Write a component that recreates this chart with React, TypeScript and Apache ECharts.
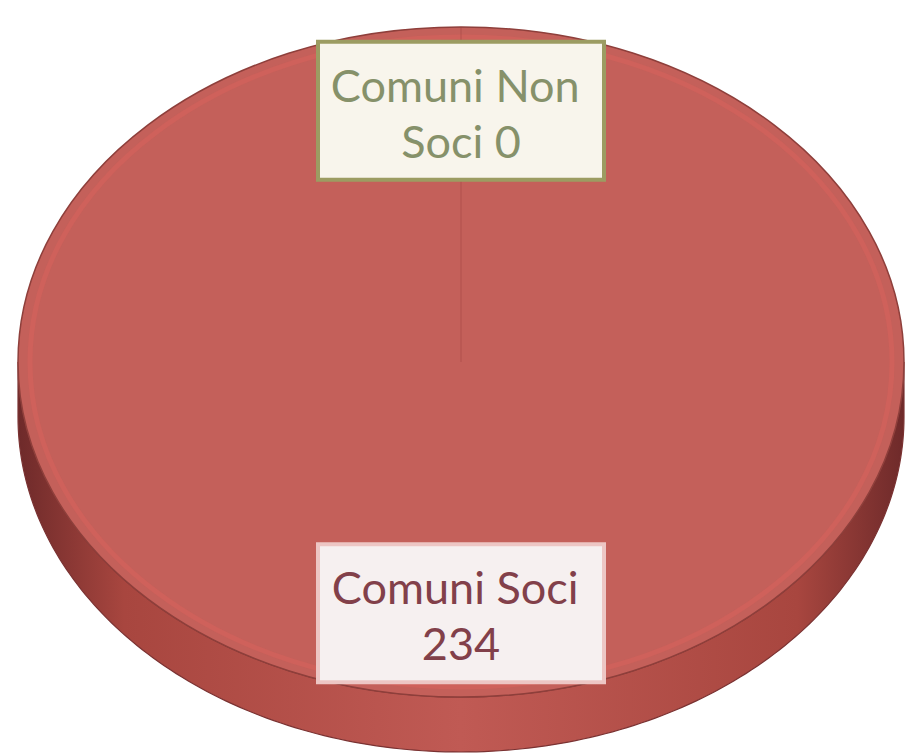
import React, { useEffect, useRef } from 'react';
import * as echarts from 'echarts';

// ---- data ----
const categories: string[] = ['Comuni Soci', 'Comuni Non Soci'];
const values: number[] = [234, 0];

// ---- styles ----
const sliceColors = ['#C4605A', '#9BBB59'];
const sideColors = [
  ['#6e2a2a', '#a8463f', '#c05a54', '#a8463f', '#6e2a2a'],
  ['#5a6e30', '#86a048', '#9BBB59', '#86a048', '#5a6e30'],
];
const labelTextColors = ['#82404a', '#86916a'];
const labelFills = ['#F6F0F0', '#F8F5EC'];
const labelBorders = ['#EDC6C4', '#9C9C62'];

const CX = 461, CY = 362, RX = 443, RY = 335, DEPTH = 55;

function pt(t: number, dy = 0, k = 1): number[] {
  return [CX + k * RX * Math.sin(t), CY - k * RY * Math.cos(t) + dy];
}
function arcPts(t0: number, t1: number, dy = 0, k = 1): number[][] {
  const n = Math.max(2, Math.ceil((t1 - t0) / (Math.PI / 180)));
  const out: number[][] = [];
  for (let j = 0; j <= n; j++) out.push(pt(t0 + ((t1 - t0) * j) / n, dy, k));
  return out;
}

export default function App() {
  const ref = useRef<HTMLDivElement>(null);
  useEffect(() => {
    if (!ref.current) return;
    const chart = echarts.init(ref.current, null, { renderer: 'svg' });
    const total = values.reduce((a, b) => a + b, 0);
    const renderItem = (params: any, api: any) => {
      const i = params.dataIndex;
      const v = api.value(0);
      let s = 0;
      for (let k = 0; k < i; k++) s += values[k];
      const a0 = (s / total) * Math.PI * 2;
      const a1 = ((s + v) / total) * Math.PI * 2;
      const children: any[] = [];
      const full = a1 - a0 >= Math.PI * 2 - 1e-6;
      if (v > 0) {
        const s0 = Math.max(a0, Math.PI / 2);
        const s1 = Math.min(a1, (Math.PI * 3) / 2);
        if (s1 > s0) {
          const top = arcPts(s0, s1, 0);
          const bot = arcPts(s0, s1, DEPTH).reverse();
          children.push({
            type: 'polygon',
            z2: 0,
            shape: { points: top.concat(bot) },
            style: {
              fill: new echarts.graphic.LinearGradient(0, 0, 1, 0,
                sideColors[i].map((c, j) => ({ offset: [0, 0.12, 0.5, 0.88, 1][j], color: c }))),
              stroke: '#7a3232',
              lineWidth: 1.2,
            },
          });
        }
        if (full) {
          children.push({
            type: 'ellipse', z2: 1,
            shape: { cx: CX, cy: CY, rx: RX, ry: RY },
            style: { fill: sliceColors[i], stroke: '#8e3f3b', lineWidth: 1.5 },
          });
          children.push({
            type: 'ellipse', z2: 2, silent: true,
            shape: { cx: CX, cy: CY, rx: RX - 12, ry: RY - 10 },
            style: { fill: 'none', stroke: 'rgba(218,98,92,0.5)', lineWidth: 5 },
          });
        } else {
          children.push({
            type: 'polygon', z2: 1,
            shape: { points: [[CX, CY]].concat(arcPts(a0, a1, 0)) },
            style: { fill: sliceColors[i], stroke: '#8e3f3b', lineWidth: 1.5 },
          });
        }
      }
      const b = pt(a0);
      children.push({
        type: 'line', z2: 3, silent: true,
        shape: { x1: CX, y1: CY, x2: b[0], y2: b[1] },
        style: { stroke: 'rgba(150,60,60,0.1)', lineWidth: 2 },
      });
      const mid = (a0 + a1) / 2;
      const [lx, ly] = pt(mid, 0, 0.75);
      const W = 286, H = 138;
      children.push({
        type: 'rect', z2: 10,
        shape: { x: lx - W / 2, y: ly - H / 2, width: W, height: H },
        style: { fill: labelFills[i], stroke: labelBorders[i], lineWidth: 4 },
      });
      children.push({
        type: 'text', z2: 11,
        style: {
          text: categories[i] + ' ' + v,
          x: lx, y: ly + 2,
          align: 'center', verticalAlign: 'middle',
          width: 268, overflow: 'break',
          font: '45px Lato',
          lineHeight: 56,
          fill: labelTextColors[i],
        },
      });
      return { type: 'group', children };
    };
    chart.setOption({
      animation: false,
      backgroundColor: '#ffffff',
      series: [
        {
          type: 'custom',
          coordinateSystem: 'none',
          renderItem,
          data: values.map((v, i) => ({ name: categories[i], value: [v] })),
        },
      ],
    });
    return () => chart.dispose();
  }, []);
  return (
    <div
      ref={ref}
      style={{ position: 'absolute', left: 0, top: 0, width: 906, height: 753 }}
    />
  );
}
